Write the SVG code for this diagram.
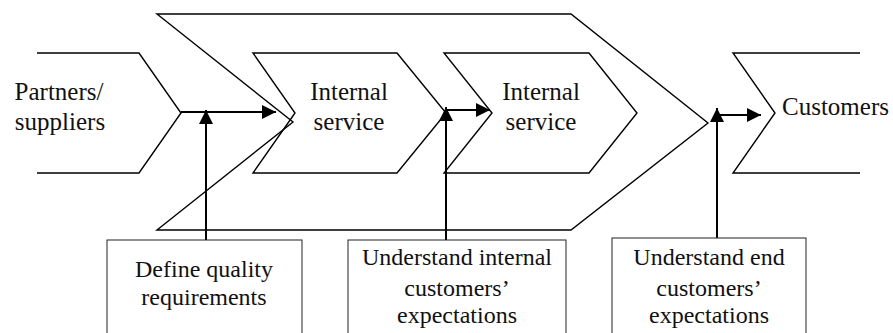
<svg xmlns="http://www.w3.org/2000/svg" width="893" height="333" viewBox="0 0 893 333">
  <style>
    .shape { fill: none; stroke: #000; stroke-width: 1.4; stroke-linejoin: miter; }
    .box { fill: #fff; stroke: #222; stroke-width: 1; }
    .conn { fill: none; stroke: #000; stroke-width: 2; }
    text { fill: #111; text-anchor: middle; }
    .lbl { font-size: 25px; }
    .blbl { font-size: 24px; }
  </style>
  <defs>
    <marker id="arrow" viewBox="0 0 14 14" refX="14" refY="7" markerWidth="14" markerHeight="14" markerUnits="userSpaceOnUse" orient="auto">
      <path d="M0,0 L14,7 L0,14 Z" fill="#000"/>
    </marker>
  </defs>

  <rect width="893" height="333" fill="#fff"/>

  <g font-family="'Liberation Serif', 'DejaVu Serif', 'Times New Roman', serif">
    <!-- large enclosing chevron (internal value chain) -->
    <g id="chain">
      <path class="shape" d="M157,14 L571,14 L708,123 L571,230 L157,230 L293,122 Z"/>
    </g>

    <g id="partners">
      <path class="shape" d="M37,53 L139,53 L181,113 L139,173 L37,173"/>
      <text class="lbl" x="59" y="100">Partners/</text>
      <text class="lbl" x="60" y="130">suppliers</text>
    </g>

    <g id="internal1">
      <path class="shape" d="M253,53 L397,53 L446,113 L397,173 L253,173 L295,113 Z"/>
      <text class="lbl" x="349" y="100">Internal</text>
      <text class="lbl" x="349" y="130">service</text>
    </g>

    <g id="internal2">
      <path class="shape" d="M444,53 L589,53 L637,113 L589,173 L444,173 L492,113 Z"/>
      <text class="lbl" x="541" y="100">Internal</text>
      <text class="lbl" x="541" y="130">service</text>
    </g>

    <g id="customers">
      <path class="shape" d="M860,53 L733,53 L775,113 L733,173 L860,173"/>
      <text class="lbl" x="782" y="115" text-anchor="start" style="text-anchor:start">Customers</text>
    </g>

    <g id="connectors">
      <line class="conn" x1="181" y1="112" x2="276" y2="112" marker-end="url(#arrow)"/>
      <line class="conn" x1="206" y1="240" x2="206" y2="110" marker-end="url(#arrow)"/>
      <line class="conn" x1="446" y1="110" x2="490" y2="110" marker-end="url(#arrow)"/>
      <line class="conn" x1="446" y1="240" x2="446" y2="107" marker-end="url(#arrow)"/>
      <line class="conn" x1="717" y1="115" x2="761" y2="115" marker-end="url(#arrow)"/>
      <line class="conn" x1="717" y1="238" x2="717" y2="108" marker-end="url(#arrow)"/>
    </g>

    <g id="box-quality">
      <rect class="box" x="107" y="240" width="195" height="100"/>
      <text class="blbl" x="204" y="277">Define quality</text>
      <text class="blbl" x="204" y="305">requirements</text>
    </g>

    <g id="box-internal">
      <rect class="box" x="348" y="240" width="218" height="100"/>
      <text class="blbl" x="457" y="265">Understand internal</text>
      <text class="blbl" x="457" y="296">customers’</text>
      <text class="blbl" x="457" y="323">expectations</text>
    </g>

    <g id="box-end">
      <rect class="box" x="612" y="238" width="194" height="100"/>
      <text class="blbl" x="709" y="265">Understand end</text>
      <text class="blbl" x="709" y="296">customers’</text>
      <text class="blbl" x="709" y="323">expectations</text>
    </g>
  </g>
</svg>
